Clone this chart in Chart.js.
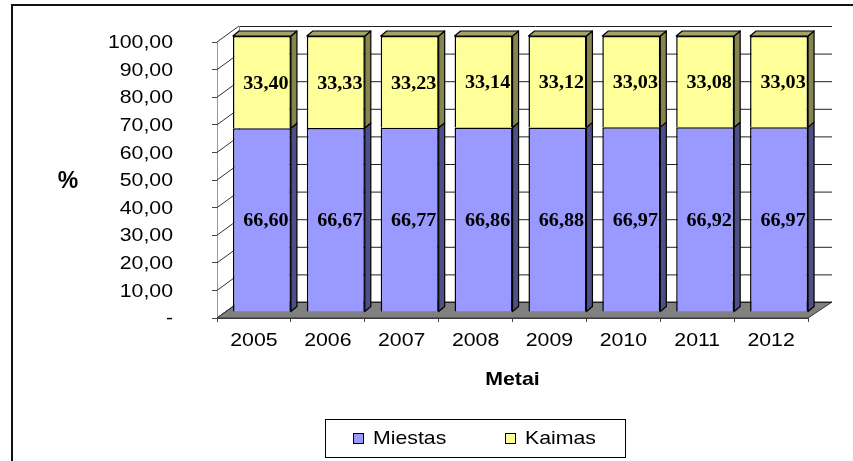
<!DOCTYPE html>
<html><head><meta charset="utf-8">
<script src="https://cdn.jsdelivr.net/npm/chart.js@4/dist/chart.umd.min.js"></script>
<style>html,body{margin:0;padding:0;background:#fff}#wrap{width:853px;height:461px;position:relative}</style>
</head><body><div id="wrap"><canvas id="c" width="853" height="461"></canvas></div>
<script>
const years = ['2005','2006','2007','2008','2009','2010','2011','2012'];
const miestas = [66.60,66.67,66.77,66.86,66.88,66.97,66.92,66.97];
const kaimas = [33.40,33.33,33.23,33.14,33.12,33.03,33.08,33.03];
const seriesNames = ['Miestas','Kaimas'];
const yTickLabels = ['-','10,00','20,00','30,00','40,00','50,00','60,00','70,00','80,00','90,00','100,00'];
const xTitle = 'Metai';
const yTitle = '%';

const frontColors = ['#9999FF','#FFFF99'];
const sideColors = ['#4F4F88','#85854F'];
const topColors = ['#7777BB','#A3A366'];
const BAR_DX = 8, BAR_DY = -6;
const DEP_X = 6, DEP_Y = -5;
const WALL_DXL = 22, WALL_DXR = 24, WALL_DY = -16;
const STRETCH = 1.12;

const SANS = '"Liberation Sans", Arial, sans-serif';
const SERIF = '"Liberation Serif", "Times New Roman", serif';

function fmt(v){ return v.toFixed(2).replace('.', ','); }

function stretchText(ctx, txt, x, y, align){
  ctx.save();
  ctx.translate(x, y);
  ctx.scale(STRETCH, 1);
  ctx.textAlign = align;
  ctx.fillText(txt, 0, 0);
  ctx.restore();
}

const threeD = {
  id: 'threeD',
  beforeDraw(chart){
    const ctx = chart.ctx;
    ctx.save();
    ctx.fillStyle = '#fff';
    ctx.fillRect(0,0,chart.width,chart.height);
    ctx.strokeStyle = '#111'; ctx.lineWidth = 2;
    ctx.beginPath();
    ctx.moveTo(12, chart.height); ctx.lineTo(12, 5); ctx.lineTo(chart.width, 5);
    ctx.stroke();
    ctx.restore();
  },
  beforeDatasetsDraw(chart){
    const ctx = chart.ctx, a = chart.chartArea, ys = chart.scales.y;
    ctx.save();
    ctx.fillStyle = '#808080';
    ctx.strokeStyle = '#333'; ctx.lineWidth = 1;
    ctx.beginPath();
    ctx.moveTo(a.left, a.bottom);
    ctx.lineTo(a.right, a.bottom);
    ctx.lineTo(a.right + WALL_DXR, a.bottom + WALL_DY);
    ctx.lineTo(a.left + WALL_DXL, a.bottom + WALL_DY);
    ctx.closePath(); ctx.fill(); ctx.stroke();
    ys.ticks.forEach(t => {
      const yf = ys.getPixelForValue(t.value);
      ctx.strokeStyle = '#222'; ctx.lineWidth = 1;
      ctx.beginPath();
      ctx.moveTo(a.left + WALL_DXL, yf + WALL_DY + 0.5);
      ctx.lineTo(a.right + WALL_DXR, yf + WALL_DY + 0.5);
      ctx.stroke();
      ctx.strokeStyle = '#333';
      ctx.beginPath();
      ctx.moveTo(a.left, yf);
      ctx.lineTo(a.left + WALL_DXL, yf + WALL_DY);
      ctx.stroke();
    });
    ctx.strokeStyle = '#888';
    ctx.beginPath();
    ctx.moveTo(a.left + WALL_DXL + 0.5, ys.getPixelForValue(100) + WALL_DY);
    ctx.lineTo(a.left + WALL_DXL + 0.5, a.bottom + WALL_DY);
    ctx.stroke();
    ctx.restore();
    ctx.save();
    ctx.translate(BAR_DX, BAR_DY);
  },
  afterDatasetsDraw(chart){
    const ctx = chart.ctx;
    const n = chart.data.datasets.length;
    chart.data.datasets.forEach((ds, di) => {
      const meta = chart.getDatasetMeta(di);
      meta.data.forEach(el => {
        const p = el.getProps(['x','y','base','width'], true);
        const l = p.x - p.width/2, r = p.x + p.width/2;
        ctx.strokeStyle = '#000'; ctx.lineWidth = 1.2; ctx.lineJoin = 'round';
        ctx.fillStyle = sideColors[di];
        ctx.beginPath();
        ctx.moveTo(r, p.y); ctx.lineTo(r + DEP_X, p.y + DEP_Y);
        ctx.lineTo(r + DEP_X, p.base + DEP_Y); ctx.lineTo(r, p.base);
        ctx.closePath(); ctx.fill(); ctx.stroke();
        if (di === n - 1) {
          ctx.fillStyle = topColors[di];
          ctx.beginPath();
          ctx.moveTo(l, p.y); ctx.lineTo(l + DEP_X, p.y + DEP_Y);
          ctx.lineTo(r + DEP_X, p.y + DEP_Y); ctx.lineTo(r, p.y);
          ctx.closePath(); ctx.fill(); ctx.stroke();
        }
      });
    });
    ctx.fillStyle = '#000';
    ctx.font = 'bold 18px ' + SERIF;
    ctx.textBaseline = 'middle';
    chart.data.datasets.forEach((ds, di) => {
      const meta = chart.getDatasetMeta(di);
      meta.data.forEach((el, i) => {
        const p = el.getProps(['x','y','base'], true);
        stretchText(ctx, fmt(ds.data[i]), p.x + 4, (p.y + p.base)/2 + 2, 'center');
      });
    });
    ctx.restore();
  },
  afterDraw(chart){
    const ctx = chart.ctx, a = chart.chartArea;
    const xs = chart.scales.x, ys = chart.scales.y;
    ctx.save();
    ctx.fillStyle = '#000';
    ctx.textBaseline = 'middle';
    ctx.font = '19px ' + SANS;
    ys.ticks.forEach((t, i) => {
      stretchText(ctx, yTickLabels[i], a.left - 44, ys.getPixelForValue(t.value) + 1, 'right');
    });
    xs.ticks.forEach((t, i) => {
      stretchText(ctx, years[i], xs.getPixelForTick(i), a.bottom + 23, 'center');
    });
    ctx.font = 'bold 23px ' + SANS;
    ctx.textAlign = 'center';
    ctx.fillText(yTitle, 68, (a.top + a.bottom)/2 + 2);
    ctx.font = 'bold 19px ' + SANS;
    stretchText(ctx, xTitle, (a.left + a.right)/2, a.bottom + 62, 'center');
    const bx = 325, by = 419, bw = 300, bh = 38;
    ctx.strokeStyle = '#000'; ctx.lineWidth = 1;
    ctx.strokeRect(bx + 0.5, by + 0.5, bw, bh);
    const itemX = [353, 505];
    ctx.font = '19px ' + SANS;
    seriesNames.forEach((nm, i) => {
      ctx.fillStyle = frontColors[i];
      ctx.fillRect(itemX[i] + 0.5, by + 14.5, 10, 10);
      ctx.strokeRect(itemX[i] + 0.5, by + 14.5, 10, 10);
      ctx.fillStyle = '#000';
      stretchText(ctx, nm, itemX[i] + 20, by + 20, 'left');
    });
    ctx.restore();
  }
};

new Chart(document.getElementById('c'), {
  type: 'bar',
  data: {
    labels: years,
    datasets: [
      { label: seriesNames[0], data: miestas, backgroundColor: frontColors[0], borderColor: '#000', borderWidth: 1.5 },
      { label: seriesNames[1], data: kaimas, backgroundColor: frontColors[1], borderColor: '#000', borderWidth: 1.5 }
    ]
  },
  options: {
    responsive: false,
    animation: false,
    devicePixelRatio: 1,
    layout: { padding: { top: 42, right: 45, left: 0, bottom: 0 } },
    datasets: { bar: { barPercentage: 0.785, categoryPercentage: 1 } },
    plugins: { legend: { display: false }, tooltip: { enabled: false } },
    scales: {
      x: {
        stacked: true,
        afterFit(s){ s.height = 143; },
        grid: { drawOnChartArea: false, drawTicks: true, tickLength: 4, color: '#444', offset: true },
        border: { display: true, color: '#444' },
        ticks: { color: 'rgba(0,0,0,0)', font: { family: SANS, size: 12 }, padding: 0, maxRotation: 0, autoSkip: false }
      },
      y: {
        stacked: true,
        min: 0, max: 100,
        afterFit(s){ s.width = 217; },
        grid: { drawOnChartArea: false, drawTicks: true, tickLength: 5, color: '#444' },
        border: { display: true, color: '#999' },
        ticks: { stepSize: 10, autoSkip: false, color: 'rgba(0,0,0,0)', font: { family: SANS, size: 12 }, padding: 0,
          callback: (v, i) => yTickLabels[i] }
      }
    }
  },
  plugins: [threeD]
});
</script>
</body></html>
